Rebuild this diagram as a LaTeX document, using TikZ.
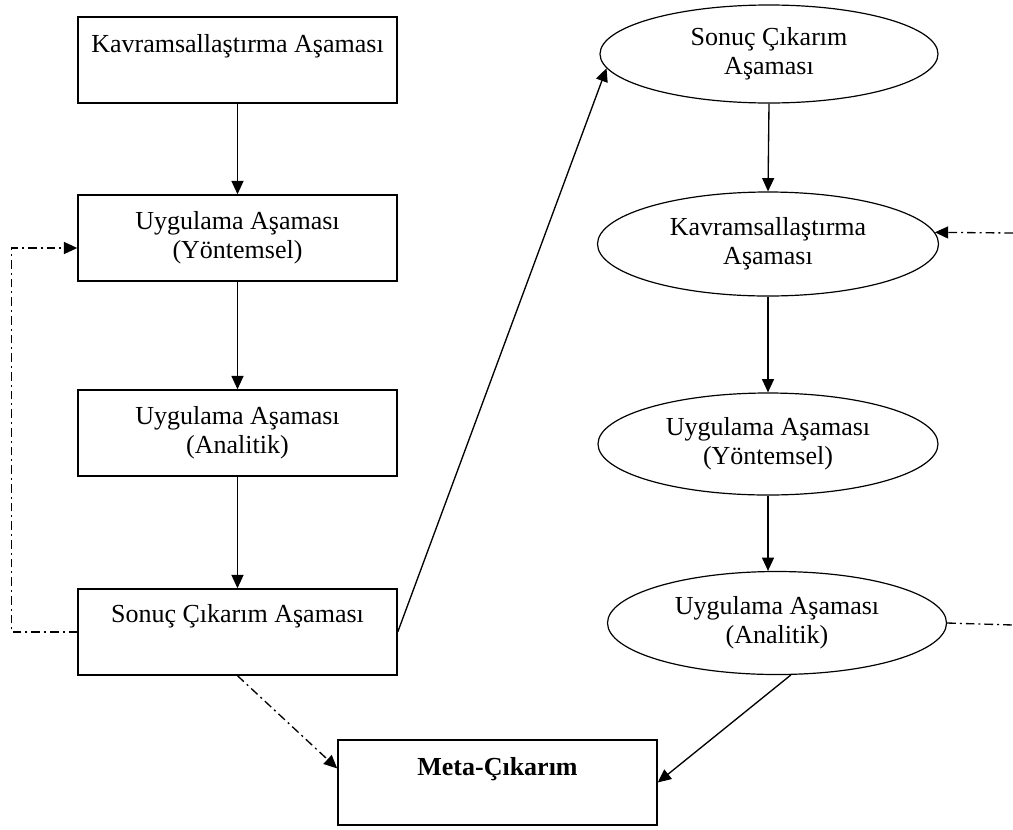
\documentclass[tikz,border=0pt]{standalone}
\usepackage{fontspec}
\setmainfont{Liberation Serif}
\usetikzlibrary{shapes.geometric,arrows.meta,calc}

\tikzset{
  stagebox/.style={draw, line width=1.1pt, rectangle, inner sep=0pt, align=center,
    minimum width=239.25pt, minimum height=64.5pt, font=\fontsize{19.5}{22}\selectfont},
  stageell/.style={draw, line width=0.9pt, ellipse, inner sep=0pt, align=center,
    font=\fontsize{19.5}{22}\selectfont},
  conn/.style={line width=1pt, -{Triangle[length=10pt,width=9pt]}},
  dashdotline/.style={line width=1pt, dash pattern=on 6.5pt off 3pt on 1.5pt off 3pt}
}

\begin{document}
\begin{tikzpicture}[x=0.75pt,y=0.75pt,yscale=-1,xscale=1]
			\useasboundingbox (0,0) rectangle (1013,829);
			%Shape: Rectangle [left column]
			\node [stagebox, text height=14pt, text depth=26pt] (k1) at (237.5,60) {Kavramsallaştırma Aşaması};
			%Shape: Rectangle
			\node [stagebox] (k2) at (237.5,238) {Uygulama Aşaması\\(Yöntemsel)};
			%Shape: Rectangle
			\node [stagebox] (k3) at (237.5,433) {Uygulama Aşaması\\(Analitik)};
			%Shape: Rectangle
			\node [stagebox, text height=14pt, text depth=29pt] (k4) at (237.5,632) {Sonuç Çıkarım Aşaması};
			%Shape: Ellipse [right column]
			\node [stageell, minimum width=253.5pt, minimum height=73.5pt] (e1) at (769,54) {Sonuç Çıkarım\\Aşaması};
			%Shape: Ellipse
			\node [stageell, minimum width=255.75pt, minimum height=78pt] (e2) at (768,244) {Kavramsallaştırma\\Aşaması};
			%Shape: Ellipse
			\node [stageell, minimum width=255pt, minimum height=76.5pt] (e3) at (768,444) {Uygulama Aşaması\\(Yöntemsel)};
			%Shape: Ellipse
			\node [stageell, minimum width=254.25pt, minimum height=77.25pt] (e4) at (777,623) {Uygulama Aşaması\\(Analitik)};
			%Shape: Rectangle [bottom]
			\node [stagebox, minimum height=63.75pt, text height=14pt, text depth=24pt] (meta) at (497.5,782.5) {\textbf{Meta-Çıkarım}};
			%Free ends on the right border
			\coordinate (rin) at (1013,233);
			\coordinate (rout) at (1013,625);
			%Straight Lines
			\draw [conn] (k1.south) -- (k2.north) ;
			\draw [conn] (k2.south) -- (k3.north) ;
			\draw [conn] (k3.south) -- (k4.north) ;
			\draw [conn] (k4.east) -- (e1.185) ;
			\draw [conn] (e1.south) -- (e2.north) ;
			\draw [conn] (e2.south) -- (e3.north) ;
			\draw [conn] (e3.south) -- (e3.south |- e4.north) ;
			\draw [conn] (e4.-75) -- (meta.east) ;
			%Dash-dot Lines
			\draw [conn, dashdotline] (k4.west) -- ++(-66,0) |- ($(k2.west)+(0,10)$) ;
			\draw [conn, dashdotline] (k4.south) -- (meta.175) ;
			\draw [conn, dashdotline] (rin) -- (e2.4) ;
			\draw [dashdotline] (e4.east) -- (rout) ;
		\end{tikzpicture}
\end{document}
